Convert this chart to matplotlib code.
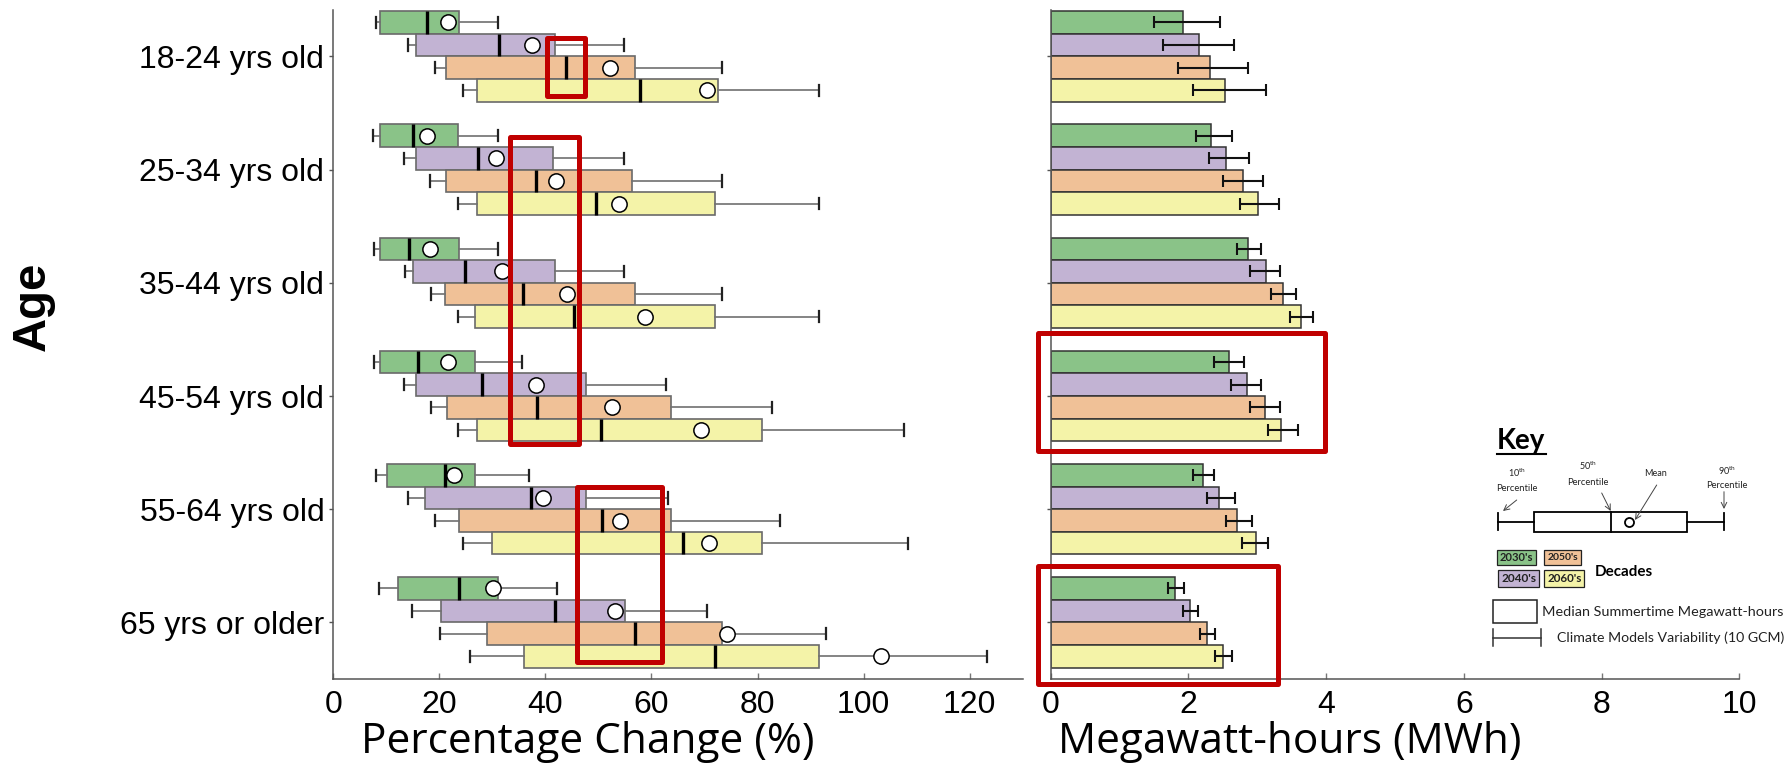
import matplotlib
matplotlib.use("Agg")
import matplotlib.pyplot as plt
from matplotlib.patches import Rectangle
import numpy as np

plt.rcParams["font.family"] = ["Liberation Sans", "DejaVu Sans"]
plt.rcParams["mathtext.fontset"] = "custom"
plt.rcParams["mathtext.rm"] = "Lato"
plt.rcParams["mathtext.default"] = "regular"

ages = ["18-24 yrs old", "25-34 yrs old", "35-44 yrs old",
        "45-54 yrs old", "55-64 yrs old", "65 yrs or older"]
decades = ["2030's", "2040's", "2050's", "2060's"]
colors = ["#8AC388", "#C2B3D3", "#F0C197", "#F4F3A8"]

# percentage change, one row per decade, one value per age group
pct_p10 = [[8.0, 7.5, 7.7, 7.7, 8.0, 8.6],
           [14.1, 13.3, 13.5, 13.4, 14.1, 14.8],
           [19.2, 18.2, 18.4, 18.4, 19.2, 20.2],
           [24.5, 23.5, 23.5, 23.5, 24.5, 25.7]]
pct_q1 = [[8.9, 8.9, 8.8, 8.9, 10.2, 12.2],
          [15.6, 15.6, 15.1, 15.6, 17.3, 20.3],
          [21.3, 21.3, 21.1, 21.4, 23.7, 28.9],
          [27.1, 27.1, 26.8, 27.1, 29.9, 36.0]]
pct_med = [[17.6, 15.1, 14.3, 16.0, 21.0, 23.7],
           [31.3, 27.3, 24.8, 28.1, 37.3, 41.8],
           [43.8, 38.2, 35.7, 38.5, 50.7, 56.9],
           [57.8, 49.6, 45.3, 50.5, 65.9, 71.9]]
pct_mean = [[21.6, 17.6, 18.2, 21.6, 22.8, 30.1],
            [37.5, 30.6, 31.8, 38.2, 39.5, 53.1],
            [52.2, 42.0, 44.1, 52.6, 54.1, 74.2],
            [70.4, 53.9, 58.8, 69.4, 70.8, 103.2]]
pct_q3 = [[23.7, 23.5, 23.7, 26.8, 26.8, 31.0],
          [41.9, 41.4, 41.8, 47.6, 47.6, 55.0],
          [56.9, 56.4, 56.9, 63.6, 63.6, 73.3],
          [72.6, 71.9, 71.9, 80.8, 80.8, 91.6]]
pct_p90 = [[31.0, 31.0, 31.0, 35.6, 36.9, 42.1],
           [54.9, 54.9, 54.9, 62.7, 63.2, 70.4],
           [73.3, 73.3, 73.3, 82.7, 84.2, 93.0],
           [91.5, 91.5, 91.5, 107.7, 108.4, 123.3]]

# median summertime MWh and range across climate models
mwh = [[1.92, 2.33, 2.87, 2.59, 2.21, 1.81],
       [2.15, 2.54, 3.12, 2.85, 2.44, 2.03],
       [2.32, 2.79, 3.38, 3.11, 2.71, 2.27],
       [2.53, 3.01, 3.63, 3.35, 2.98, 2.50]]
mwh_lo = [[1.50, 2.11, 2.70, 2.37, 2.06, 1.71],
          [1.63, 2.30, 2.90, 2.62, 2.27, 1.92],
          [1.85, 2.50, 3.20, 2.89, 2.54, 2.17],
          [2.06, 2.75, 3.47, 3.15, 2.78, 2.39]]
mwh_hi = [[2.46, 2.64, 3.06, 2.81, 2.37, 1.93],
          [2.66, 2.88, 3.33, 3.05, 2.67, 2.14],
          [2.87, 3.08, 3.56, 3.33, 2.92, 2.39],
          [3.12, 3.32, 3.81, 3.59, 3.15, 2.64]]

W, H = 1789, 766
fig = plt.figure(figsize=(W / 100, H / 100), dpi=100)
ax1 = fig.add_axes([333.3 / W, 87 / H, 689.4 / W, 669 / H])
ax2 = fig.add_axes([1050.7 / W, 87 / H, 688.6 / W, 669 / H])


def fit_width(t, target):
    """shrink or grow a text so it is target pixels wide"""
    r = fig.canvas.get_renderer()
    w = t.get_window_extent(r).width
    t.set_fontsize(t.get_fontsize() * target / w)


offsets = [-0.3, -0.1, 0.1, 0.3]
group = np.arange(len(ages))

for d in range(len(decades)):
    stats = []
    for i in range(len(ages)):
        stats.append(dict(med=pct_med[d][i], q1=pct_q1[d][i], q3=pct_q3[d][i],
                          whislo=pct_p10[d][i], whishi=pct_p90[d][i],
                          mean=pct_mean[d][i], fliers=[]))
    ax1.bxp(stats, positions=group + offsets[d], widths=0.2, capwidths=0.1,
            orientation="horizontal", patch_artist=True, showmeans=True,
            boxprops=dict(facecolor=colors[d], edgecolor="#6a6a6a", linewidth=1.2),
            medianprops=dict(color="black", linewidth=2.4),
            whiskerprops=dict(color="#707070", linewidth=1.2),
            capprops=dict(color="#222222", linewidth=1.6),
            meanprops=dict(marker="o", markerfacecolor="white",
                           markeredgecolor="black", markersize=11,
                           markeredgewidth=1.1))

    vals = np.array(mwh[d])
    ax2.barh(group + offsets[d], vals, height=0.2, color=colors[d],
             edgecolor="#333333", linewidth=1.1)
    xerr = [vals - np.array(mwh_lo[d]), np.array(mwh_hi[d]) - vals]
    ax2.errorbar(vals, group + offsets[d], xerr=xerr, fmt="none",
                 ecolor="#111111", elinewidth=1.5, capsize=4.3, capthick=1.5)

for ax in (ax1, ax2):
    ax.set_ylim(5.5, -0.41)
    ax.set_yticks(group)
    for s in ("top", "right"):
        ax.spines[s].set_visible(False)
    for s in ("left", "bottom"):
        ax.spines[s].set_color("#555555")
        ax.spines[s].set_linewidth(1.1)
    ax.tick_params(axis="x", direction="in", length=4, width=1, color="#777777",
                   labelsize=23, pad=8)
    ax.tick_params(axis="y", direction="out", length=3, width=1, color="#555555")

ax1.set_xlim(0, 130)
ax1.set_xticks(np.arange(0, 121, 20))
ax1.set_yticklabels(ages, fontsize=23)
ax2.set_xlim(0, 10)
ax2.set_xticks(np.arange(0, 11, 2))
ax2.set_yticklabels([])

fig.text(588 / W, 13 / H, "Percentage Change (%)", family="Open Sans",
         fontsize=30.5, ha="center", va="baseline")
fig.text(1290 / W, 13 / H, "Megawatt-hours (MWh)", family="Open Sans",
         fontsize=30.5, ha="center", va="baseline")
fig.text(33 / W, 1 - 306 / H, "Age", fontsize=34, fontweight="bold",
         rotation=90, ha="center", va="center")

# red highlight boxes
red = "#C00000"
for ax, (x0, x1, y0, y1) in [(ax1, (40.3, 47.4, -0.16, 0.35)),
                             (ax1, (33.3, 46.4, 0.71, 3.42)),
                             (ax1, (45.9, 61.9, 3.80, 5.35)),
                             (ax2, (-0.18, 3.99, 2.44, 3.49)),
                             (ax2, (-0.18, 3.30, 4.50, 5.54))]:
    ax.add_patch(Rectangle((x0, y0), x1 - x0, y1 - y0, fill=False,
                           edgecolor=red, linewidth=3.6, joinstyle="round",
                           clip_on=False, zorder=10))

# key, drawn in pixel coordinates
kx0, kx1, ky0, ky1 = 1480, 1789, 415, 660
key = fig.add_axes([kx0 / W, 1 - ky1 / H, (kx1 - kx0) / W, (ky1 - ky0) / H])
key.set_xlim(kx0, kx1)
key.set_ylim(ky1, ky0)
key.axis("off")
key.patch.set_alpha(0)
kf = "Lato"

t = key.text(1497, 449, "Key", family=kf, fontsize=19, fontweight="bold",
             va="baseline", ha="left")
fit_width(t, 48)
key.plot([1497, 1546], [454, 454], color="black", lw=1.5)

yk = 521.7
key.plot([1497.7, 1534], [yk, yk], color="black", lw=1.3)
key.plot([1687, 1724], [yk, yk], color="black", lw=1.3)
key.plot([1497.7, 1497.7], [513, 530.5], color="black", lw=1.3)
key.plot([1724, 1724], [513, 530.5], color="black", lw=1.3)
key.add_patch(Rectangle((1534, 511.7), 153, 20, facecolor="white",
                        edgecolor="black", lw=1.3))
key.plot([1611, 1611], [511.7, 531.7], color="black", lw=1.3)
key.plot([1629.3], [yk], marker="o", markersize=6.5, markerfacecolor="white",
         markeredgecolor="black", markeredgewidth=1.3)

small = dict(family=kf, fontsize=6.5, ha="center", va="center", color="#222222")
for x, y, s in [(1517, 473.3, "10$^{th}$"), (1517, 488.3, "Percentile"),
                (1588, 466, "50$^{th}$"), (1588, 482.7, "Percentile"),
                (1655.7, 473.3, "Mean"), (1726.7, 471, "90$^{th}$"),
                (1726.7, 485.3, "Percentile")]:
    t = key.text(x, y, s, **small)
    if s == "Percentile":
        fit_width(t, 41)
arrow = dict(arrowstyle="->", color="#444444", lw=0.7, shrinkA=0, shrinkB=0)
key.annotate("", xy=(1503, 511), xytext=(1516.7, 500), arrowprops=arrow)
key.annotate("", xy=(1610.7, 511), xytext=(1601.7, 493), arrowprops=arrow)
key.annotate("", xy=(1635, 520), xytext=(1656.7, 485), arrowprops=arrow)
key.annotate("", xy=(1724, 509), xytext=(1724, 491.7), arrowprops=arrow)

swatches = [(1497.3, 550, 38.7, 15), (1498.3, 570, 41, 16.7),
            (1544.3, 550, 36.4, 15), (1544.3, 570, 40, 16.7)]
for (sx, sy, sw, sh), lab, c in zip(swatches, decades, colors):
    key.add_patch(Rectangle((sx, sy), sw, sh, facecolor=c, edgecolor="#222222",
                            lw=0.9))
    t = key.text(sx + sw / 2, sy + sh / 2, lab, family=kf, fontsize=8,
                 fontweight="bold", ha="center", va="center", color="#222222")
    fit_width(t, sw - 5)
t = key.text(1595, 571.7, "Decades", family=kf, fontsize=11, fontweight="bold",
             ha="left", va="center")
fit_width(t, 58)

key.add_patch(Rectangle((1492.7, 600), 44.6, 23.3, facecolor="white",
                        edgecolor="#222222", lw=1.1))
t = key.text(1541.7, 611.7, "Median Summertime Megawatt-hours", family=kf,
             fontsize=10.5, ha="left", va="center", color="#222222")
fit_width(t, 242)
key.plot([1493.3, 1540.7], [638.3, 638.3], color="#333333", lw=1.1)
key.plot([1493.3, 1493.3], [629, 646], color="#333333", lw=1.1)
key.plot([1540.7, 1540.7], [629, 646], color="#333333", lw=1.1)
t = key.text(1557.3, 638, "Climate Models Variability (10 GCM)", family=kf,
             fontsize=10, ha="left", va="center", color="#222222")
fit_width(t, 227)

fig.savefig("out.png", dpi=100)
